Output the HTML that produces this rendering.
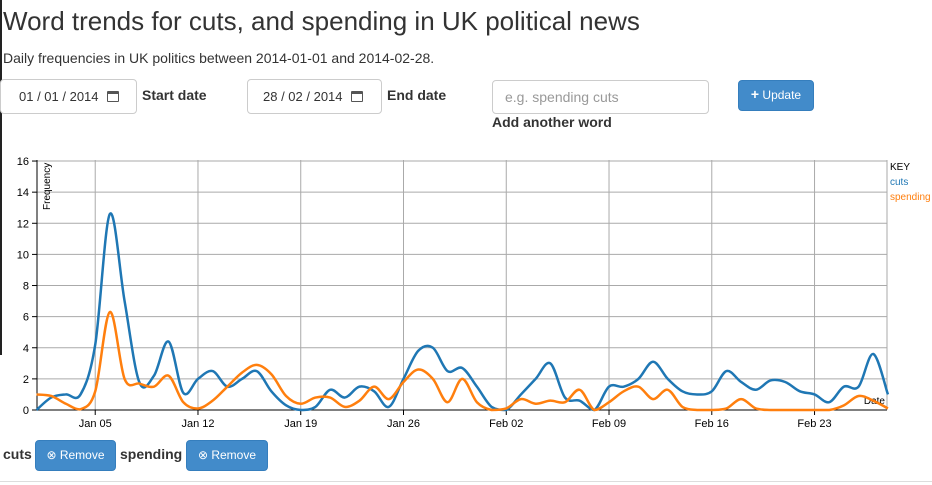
<!DOCTYPE html>
<html><head><meta charset="utf-8"><style>
body{margin:0;width:932px;height:485px;overflow:hidden;background:#fff;font-family:"Liberation Sans",Arial,sans-serif;color:#333;position:relative}
.a{position:absolute}
.box{position:absolute;border:1px solid #ccc;border-radius:4px;background:#fff;box-sizing:border-box}
.btn{position:absolute;background:#428bca;border:1px solid #357ebd;border-radius:4px;color:#fff;font-size:12px;box-sizing:border-box;text-align:center}
b{font-weight:bold;font-size:14px;color:#333}
</style></head><body>
<div class="a" style="left:0;top:0;width:2px;height:355px;background:#222"></div>
<div class="a" style="left:3px;top:6px;font-size:26px;">Word trends for cuts, and spending in UK political news</div>
<div class="a" style="left:3px;top:50px;font-size:14px;">Daily frequencies in UK politics between 2014-01-01 and 2014-02-28.</div>
<div class="box" style="left:0;top:79px;width:137px;height:35px;"><span class="a" style="left:18px;top:9px;font-size:13px;">01 / 01 / 2014</span><span class="a" style="left:106px;top:11px;width:12px;height:11px;border:1.5px solid #555;border-top-width:3px;box-sizing:border-box;border-radius:1px"></span></div>
<div class="a" style="left:142px;top:87px"><b>Start date</b></div>
<div class="box" style="left:247px;top:79px;width:135px;height:35px;"><span class="a" style="left:15px;top:9px;font-size:13px;">28 / 02 / 2014</span><span class="a" style="left:103px;top:11px;width:12px;height:11px;border:1.5px solid #555;border-top-width:3px;box-sizing:border-box;border-radius:1px"></span></div>
<div class="a" style="left:387px;top:87px"><b>End date</b></div>
<div class="box" style="left:492px;top:80px;width:217px;height:34px;"><span class="a" style="left:12px;top:8px;font-size:14px;color:#999">e.g. spending cuts</span></div>
<div class="a" style="left:492px;top:114px"><b>Add another word</b></div>
<div class="btn" style="left:738px;top:80px;width:76px;height:31px;line-height:27px;"><b style="color:#fff;font-size:14px">+</b> Update</div>
<svg class="a" style="left:0;top:150px" width="932" height="280" id="s"></svg>
<div class="a" style="left:3px;top:446px"><b>cuts</b></div>
<div class="btn" style="left:35px;top:440px;width:81px;height:31px;line-height:29px;">&#x2297; Remove</div>
<div class="a" style="left:120px;top:446px"><b>spending</b></div>
<div class="btn" style="left:186px;top:440px;width:82px;height:31px;line-height:29px;">&#x2297; Remove</div>
<div class="a" style="left:0;top:481px;width:932px;height:1px;background:#ddd"></div>
<script>
var s=document.getElementById('s'),h='';
var X=d=>36.5+14.68*d, Y=v=>260-15.56*v;
for(var v=0;v<=16;v+=2){var y=Y(v);h+=`<line x1="37" x2="887" y1="${y}" y2="${y}" stroke="#aaa"/><line x1="32" x2="37" y1="${y}" y2="${y}" stroke="#000"/><text x="29" y="${y+4}" font-size="11" text-anchor="end" fill="#000">${v}</text>`;}
var labs=['Jan 05','Jan 12','Jan 19','Jan 26','Feb 02','Feb 09','Feb 16','Feb 23'];
labs.forEach((l,i)=>{var x=X(4+7*i);h+=`<line x1="${x}" x2="${x}" y1="10" y2="260" stroke="#aaa"/><line x1="${x}" x2="${x}" y1="260" y2="265" stroke="#000"/><text x="${x}" y="277" font-size="11" text-anchor="middle" fill="#000">${l}</text>`;});
h+=`<line x1="887" x2="887" y1="10" y2="260" stroke="#aaa"/><line x1="37" x2="37" y1="10" y2="260" stroke="#000"/><line x1="37" x2="887" y1="260" y2="260" stroke="#000"/>`;
h+=`<text transform="translate(50,60) rotate(-90)" font-size="10" fill="#000">Frequency</text><text x="885" y="254" font-size="10" text-anchor="end" fill="#000">Date</text>`;
h+=`<text x="890" y="20" font-size="10" fill="#000">KEY</text><text x="890" y="35" font-size="10" fill="#1f77b4">cuts</text><text x="890" y="50" font-size="10" fill="#ff7f0e">spending</text>`;
var c=[0,0.8,1.0,1.0,4.2,12.6,7,1.8,2.2,4.4,1.1,2.0,2.5,1.5,2.0,2.5,1.2,0.3,0,0.2,1.3,0.8,1.5,1.2,0.2,2.0,3.8,4.0,2.5,2.7,1.5,0.2,0,1.0,2.0,3.0,0.8,0.6,0,1.5,1.5,2.0,3.1,2.0,1.2,1.0,1.2,2.5,1.8,1.3,1.9,1.8,1.2,1.0,0.5,1.5,1.5,3.6,1.0];
var p=[1.0,0.9,0.4,0.05,1.2,6.3,2.0,1.7,1.5,2.2,0.5,0.1,0.6,1.5,2.4,2.9,2.3,0.9,0.4,0.8,0.8,0.2,0.6,1.5,0.7,1.8,2.6,2.0,0.5,2.0,0.5,0,0.1,0.7,0.4,0.6,0.5,1.3,0,0.5,1.2,1.5,0.7,1.3,0.2,0,0,0.1,0.7,0.1,0,0,0,0,0,0.3,0.9,0.6,0.1];
function path(a){var pts=a.map((v,i)=>[X(i),Y(v)]),d='M'+pts[0].join(',');
for(var i=0;i<pts.length-1;i++){var p0=pts[Math.max(i-1,0)],p1=pts[i],p2=pts[i+1],p3=pts[Math.min(i+2,pts.length-1)];
d+=`C${p1[0]+(p2[0]-p0[0])/6},${Math.min(260,p1[1]+(p2[1]-p0[1])/6)} ${p2[0]-(p3[0]-p1[0])/6},${Math.min(260,p2[1]-(p3[1]-p1[1])/6)} ${p2[0]},${p2[1]}`;}return d;}
h+=`<path d="${path(c)}" fill="none" stroke="#1f77b4" stroke-width="2.5"/><path d="${path(p)}" fill="none" stroke="#ff7f0e" stroke-width="2.5"/>`;
s.innerHTML=h;
</script>
</body></html>
